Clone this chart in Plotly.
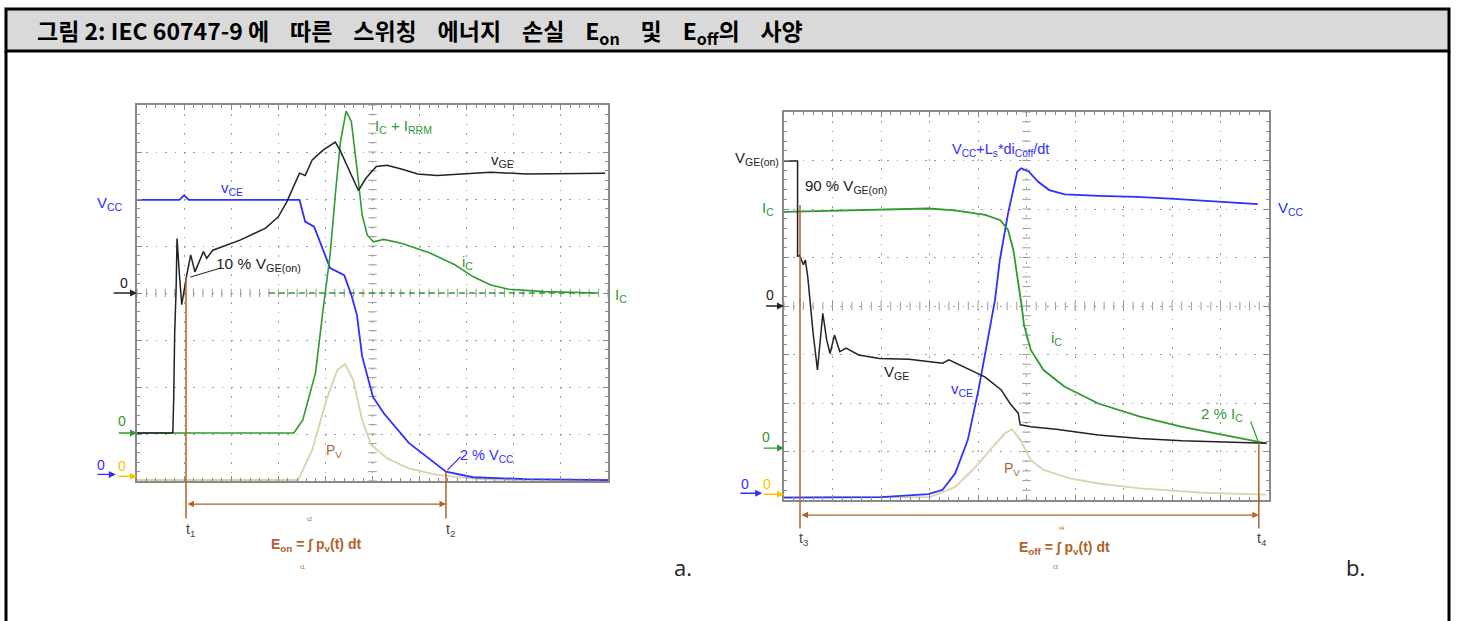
import numpy as np
import plotly.graph_objects as go

W, H = 1457, 621

# ---------------- panel a: turn-on (10 x 8 divisions) ----------------
a_vce_t = [0, 0.9, 1.0, 1.1, 3.45, 3.57, 3.76, 4.10, 4.40, 4.55, 4.67, 4.78, 5.01, 5.24, 5.77, 6.56, 7.13, 8.27, 10]
a_vce_v = [5.98, 5.98, 6.08, 5.98, 5.98, 5.52, 5.41, 4.53, 4.38, 3.96, 3.53, 2.65, 1.79, 1.44, 0.81, 0.20, 0.08, 0.04, 0.02]

a_vge_t = [0, 0.76, 0.78, 0.80, 0.83, 0.85, 0.90, 0.95, 1.05, 1.14, 1.23, 1.41, 1.48, 1.61, 2.20, 2.73,
           3.00, 3.18, 3.34, 3.45, 3.57, 3.72, 3.95, 4.21, 4.31, 4.48, 4.70, 4.86, 5.08, 5.31, 5.61,
           5.96, 6.37, 7.51, 8.27, 9.94]
a_vge_v = [1.02, 1.02, 1.79, 3.15, 4.06, 5.16, 4.40, 3.75, 4.35, 4.81, 4.45, 4.88, 4.74, 4.91, 5.13, 5.38,
           5.62, 5.94, 6.30, 6.55, 6.50, 6.83, 7.04, 7.21, 7.04, 6.65, 6.18, 6.44, 6.69, 6.72, 6.64,
           6.53, 6.50, 6.57, 6.53, 6.55]

a_ic_t = [0, 3.33, 3.52, 3.79, 3.95, 4.00, 4.10, 4.21, 4.32, 4.44, 4.55, 4.67, 4.78, 4.89, 5.02, 5.24,
          5.61, 6.22, 6.75, 7.13, 7.51, 7.89, 8.65, 9.79]
a_ic_v = [1.02, 1.02, 1.30, 2.30, 3.64, 4.00, 4.81, 6.09, 7.22, 7.87, 7.65, 6.65, 5.66, 5.23, 5.09, 5.14,
          5.06, 4.85, 4.60, 4.35, 4.17, 4.08, 4.03, 4.00]

a_ic_ref_t = [2.8, 9.8]
a_ic_ref_v = [4.0, 4.0]

a_pv_t = [0, 3.42, 3.72, 4.02, 4.25, 4.42, 4.59, 4.78, 4.97, 5.31, 5.77, 6.37, 7.13, 8.0, 10]
a_pv_v = [0.02, 0.02, 0.66, 1.72, 2.36, 2.49, 2.15, 1.30, 0.77, 0.48, 0.27, 0.13, 0.05, 0.02, 0.02]

a_t_marks = [1.04, 6.56]          # t1, t2
a_zero = {"vge": 4.0, "ic": 1.02, "vce": 0.14, "pv": 0.10}

# ---------------- panel b: turn-off ----------------
b_ic_t = [0, 2.98, 3.52, 4.15, 4.46, 4.62, 4.73, 4.85, 4.90, 4.95, 5.09, 5.35, 5.78, 6.48, 7.34, 8.21,
          9.07, 9.77, 9.95]
b_ic_v = [5.94, 6.01, 5.97, 5.88, 5.77, 5.57, 5.15, 4.40, 4.00, 3.60, 3.09, 2.68, 2.34, 1.99, 1.72, 1.51,
          1.34, 1.20, 1.17]

b_vce_t = [0, 2.0, 2.98, 3.27, 3.53, 3.79, 4.01, 4.23, 4.35, 4.45, 4.62, 4.81, 4.89, 5.05, 5.24, 5.47,
           5.79, 6.49, 7.27, 8.05, 8.83, 9.77]
b_vce_v = [0.05, 0.06, 0.12, 0.21, 0.55, 1.24, 2.27, 3.44, 4.12, 4.95, 5.91, 6.77, 6.84, 6.77, 6.56, 6.39,
           6.30, 6.27, 6.25, 6.21, 6.16, 6.10]

b_vge_t = [0, 0.28, 0.28, 0.32, 0.40, 0.44, 0.49, 0.53, 0.60, 0.69, 0.80, 0.88, 0.95, 1.04, 1.15, 1.28,
           1.54, 1.97, 2.58, 3.01, 3.27, 3.40, 3.71, 4.14, 4.48, 4.66, 4.83, 4.87, 5.09, 5.61, 6.48,
           7.34, 8.21, 9.07, 9.95]
b_vge_v = [6.99, 6.99, 5.02, 5.05, 4.85, 4.95, 4.60, 4.12, 3.44, 2.68, 3.85, 3.30, 3.02, 3.40, 3.06, 3.13,
           2.99, 2.92, 2.90, 2.85, 2.82, 2.89, 2.75, 2.54, 2.27, 1.99, 1.79, 1.55, 1.51, 1.46, 1.34,
           1.27, 1.22, 1.20, 1.17]

b_pv_t = [0, 3.01, 3.53, 3.96, 4.31, 4.55, 4.70, 4.87, 5.09, 5.35, 5.87, 6.48, 7.34, 8.64, 9.95]
b_pv_v = [0.06, 0.06, 0.27, 0.69, 1.10, 1.37, 1.46, 1.24, 0.82, 0.62, 0.45, 0.34, 0.24, 0.15, 0.11]

b_t_marks = [0.33, 9.79]          # t3, t4
b_zero = {"vge": 4.0, "ic": 1.07, "vce": 0.14, "pv": 0.12}

# ---------------- styling ----------------
BLUE = "#2f2fff"
GREEN = "#2f9a2f"
BLACK = "#222222"
TAN = "#dcd3ab"
BROWN = "#b0622a"
YELLOW = "#ffc000"
GRID = "#9a9a9a"
FRAME = "#8a8a8a"
LBL = "Liberation Sans, Arial, sans-serif"


def px_x(px):
    return px / W


def px_y(py):
    return 1 - py / H


# plot areas in pixels: (left, top, right, bottom)
BOXES = {"a": (137, 105, 608, 481), "b": (784, 112, 1269, 500)}


def scale(panel):
    l, t, r, b = BOXES[panel]
    return (r - l) / 10.0, (b - t) / 8.0


def to_paper(panel, x, y):
    l, t, r, b = BOXES[panel]
    sx, sy = scale(panel)
    return px_x(l + x * sx), px_y(b - y * sy)


fig = go.Figure()


def add_line(t, v, color, width, xa, ya, dash=None):
    fig.add_trace(go.Scatter(x=t, y=v, mode="lines", xaxis=xa, yaxis=ya, hoverinfo="skip",
                             line=dict(color=color, width=width, dash=dash, shape="linear")))


def add_center_ticks(xa, ya):
    # scope-style cross-hair ticks along the centre lines
    xs = np.arange(0, 10.01, 0.2)
    ys = np.arange(0, 8.01, 0.2)
    fig.add_trace(go.Scatter(x=xs, y=[4] * len(xs), mode="markers", xaxis=xa, yaxis=ya, hoverinfo="skip",
                             marker=dict(symbol="line-ns", size=6, line=dict(color=GRID, width=1))))
    fig.add_trace(go.Scatter(x=[5] * len(ys), y=ys, mode="markers", xaxis=xa, yaxis=ya, hoverinfo="skip",
                             marker=dict(symbol="line-ew", size=6, line=dict(color=GRID, width=1))))


add_center_ticks("x", "y")
add_center_ticks("x2", "y2")

# panel a traces
add_line(a_pv_t, a_pv_v, TAN, 1.9, "x", "y")
add_line(a_ic_ref_t, a_ic_ref_v, GREEN, 1.6, "x", "y", dash="6px,4px")
add_line(a_vce_t, a_vce_v, BLUE, 1.8, "x", "y")
add_line(a_ic_t, a_ic_v, GREEN, 1.6, "x", "y")
add_line(a_vge_t, a_vge_v, BLACK, 1.5, "x", "y")

# panel b traces
add_line(b_pv_t, b_pv_v, TAN, 1.9, "x2", "y2")
add_line(b_vce_t, b_vce_v, BLUE, 1.8, "x2", "y2")
add_line(b_ic_t, b_ic_v, GREEN, 1.8, "x2", "y2")
add_line(b_vge_t, b_vge_v, BLACK, 1.5, "x2", "y2")


def axis_style(box, horizontal):
    l, t, r, b = box
    dom = [px_x(l), px_x(r)] if horizontal else [px_y(b), px_y(t)]
    return dict(domain=dom, range=[0, 10] if horizontal else [0, 8], dtick=1, showticklabels=False,
                showline=True, linecolor=FRAME, linewidth=2, mirror="allticks",
                ticks="inside", ticklen=5, tickcolor=FRAME, tickwidth=1,
                minor=dict(dtick=0.2, ticks="inside", ticklen=3, tickcolor=FRAME, showgrid=False),
                showgrid=True, gridcolor=GRID, gridwidth=1.4, griddash="1.6px,7.8px",
                zeroline=False, fixedrange=True)


ann = []


def label(text, panel, x, y, color, size=15, anchor="left", bold=False, family=LBL):
    px, py = to_paper(panel, x, y)
    ann.append(dict(text=f"<b>{text}</b>" if bold else text, x=px, y=py, xref="paper", yref="paper",
                    xanchor=anchor, yanchor="middle", showarrow=False,
                    font=dict(family=family, size=size, color=color)))


def arrow(panel, x, y, ax, ay, color, head=2, width=1.4, side="end", size=1.0):
    # head at (x, y), tail at (ax, ay), both in divisions of the given panel
    px, py = to_paper(panel, x, y)
    sx, sy = scale(panel)
    ann.append(dict(text="", x=px, y=py, xref="paper", yref="paper",
                    ax=(ax - x) * sx, ay=-(ay - y) * sy, axref="pixel", ayref="pixel",
                    showarrow=True, arrowhead=head, arrowside=side, arrowwidth=width,
                    arrowcolor=color, arrowsize=size, standoff=0, startstandoff=0))


# ---- panel a labels ----
label("V<sub>CC</sub>", "a", -0.89, 5.91, BLUE)
label("v<sub>CE</sub>", "a", 1.74, 6.23, BLUE)
label("I<sub>C</sub> + I<sub>RRM</sub>", "a", 5.01, 7.55, GREEN)
label("v<sub>GE</sub>", "a", 7.47, 6.81, BLACK)
label("10 % V<sub>GE(on)</sub>", "a", 1.63, 4.60, BLACK, size=15.5)
label("i<sub>C</sub>", "a", 6.86, 4.64, GREEN)
label("I<sub>C</sub>", "a", 10.1, 3.94, GREEN)
label("P<sub>V</sub>", "a", 3.97, 0.64, BROWN, size=14)
label("2 % V<sub>CC</sub>", "a", 6.82, 0.54, BLUE, size=14.5)
arrow("a", 1.71, 4.51, 1.10, 4.33, BLACK, head=0, width=1)
arrow("a", 6.87, 0.52, 6.56, 0.20, BLUE, head=0, width=1.2)

# channel zero markers
label("0", "a", -0.27, 4.22, BLACK, size=14, anchor="center")
arrow("a", 0, a_zero["vge"], -0.53, a_zero["vge"], BLACK)
label("0", "a", -0.32, 1.27, GREEN, size=14, anchor="center")
arrow("a", 0, a_zero["ic"], -0.42, a_zero["ic"], GREEN)
label("0", "a", -0.76, 0.35, BLUE, size=14, anchor="center")
arrow("a", -0.45, a_zero["vce"], -0.87, a_zero["vce"], BLUE)
label("0", "a", -0.32, 0.32, YELLOW, size=14, anchor="center")
arrow("a", 0, a_zero["pv"], -0.42, a_zero["pv"], YELLOW)

# integration window t1..t2
t1, t2 = a_t_marks
arrow("a", t1, 4.34, t1, -0.83, BROWN, head=0, width=1.5)
arrow("a", t2, 0.20, t2, -0.83, BROWN, head=0, width=1.5)
arrow("a", t2, -0.49, t1, -0.49, BROWN, head=2, width=1.3, side="end+start")
label("t<sub>1</sub>", "a", t1 - 0.04, -1.04, "#444444", size=14)
label("t<sub>2</sub>", "a", t2 - 0.04, -1.04, "#444444", size=14)
label("E<sub>on</sub> = ∫ p<sub>v</sub>(t) dt", "a", 3.80, -1.36, BROWN, size=14, anchor="center", bold=True)
label("t2", "a", 3.67, -0.80, BROWN, size=6, anchor="center")
label("t1", "a", 3.52, -1.83, BROWN, size=6, anchor="center")

# ---- panel b labels ----
label("V<sub>GE(on)</sub>", "b", -1.05, 7.05, BLACK, size=15)
label("90 % V<sub>GE(on)</sub>", "b", 0.39, 6.47, BLACK, size=15)
label("I<sub>C</sub>", "b", -0.49, 6.02, GREEN)
label("V<sub>CC</sub>+L<sub>s</sub>*di<sub>Coff</sub>/dt", "b", 3.42, 7.22, BLUE, size=14.5)
label("V<sub>CC</sub>", "b", 10.14, 6.02, BLUE)
label("i<sub>C</sub>", "b", 5.46, 3.34, GREEN)
label("V<sub>GE</sub>", "b", 2.02, 2.62, BLACK)
label("v<sub>CE</sub>", "b", 3.40, 2.27, BLUE)
label("P<sub>V</sub>", "b", 4.49, 0.64, BROWN, size=14)
label("2 % I<sub>C</sub>", "b", 8.56, 1.77, GREEN)
arrow("b", 9.77, 1.22, 9.61, 1.65, GREEN, head=0, width=1.2)

label("0", "b", -0.29, 4.22, BLACK, size=14, anchor="center")
arrow("b", 0, b_zero["vge"], -0.40, b_zero["vge"], BLACK)
label("0", "b", -0.37, 1.29, GREEN, size=14, anchor="center")
arrow("b", 0, b_zero["ic"], -0.45, b_zero["ic"], GREEN)
label("0", "b", -0.80, 0.33, BLUE, size=14, anchor="center")
arrow("b", -0.45, b_zero["vce"], -0.93, b_zero["vce"], BLUE)
label("0", "b", -0.35, 0.33, YELLOW, size=14, anchor="center")
arrow("b", 0, b_zero["pv"], -0.45, b_zero["pv"], YELLOW)

t3, t4 = b_t_marks
arrow("b", t3, 6.08, t3, -0.62, BROWN, head=0, width=1.5)
arrow("b", t4, 1.22, t4, -0.62, BROWN, head=0, width=1.5)
arrow("b", t4, -0.31, t3, -0.31, BROWN, head=2, width=1.3, side="end+start")
label("t<sub>3</sub>", "b", t3 - 0.06, -0.80, "#444444", size=14)
label("t<sub>4</sub>", "b", t4 - 0.08, -0.80, "#444444", size=14)
label("E<sub>off</sub> = ∫ p<sub>v</sub>(t) dt", "b", 5.79, -0.99, BROWN, size=14, anchor="center", bold=True)
label("t4", "b", 5.73, -0.58, BROWN, size=6, anchor="center")
label("t3", "b", 5.61, -1.38, BROWN, size=6, anchor="center")

# panel letters
for letter, (lx, ly) in {"a.": (672, 567), "b.": (1344, 567)}.items():
    ann.append(dict(text=letter, x=px_x(lx), y=px_y(ly), xref="paper", yref="paper",
                    xanchor="left", yanchor="middle", showarrow=False,
                    font=dict(family="Open Sans, sans-serif", size=22, color=BLACK)))

# caption header
SP = "&nbsp;" * 4
caption = ("그림 2: IEC 60747-9 에" + SP + "따른" + SP + "스위칭" + SP + "에너지" + SP + "손실" + SP +
           "E<sub>on</sub>" + SP + "및" + SP + "E<sub>off</sub>의" + SP + "사양")
ann.append(dict(text=f"<b>{caption}</b>",
                x=px_x(35), y=px_y(31), xref="paper", yref="paper", xanchor="left", yanchor="middle",
                showarrow=False, font=dict(family="Noto Sans CJK KR, sans-serif", size=23, color="#000000")))

shapes = [
    dict(type="rect", xref="paper", yref="paper", x0=px_x(6), x1=px_x(1449), y0=px_y(51), y1=px_y(9),
         fillcolor="#d9d9d9", line=dict(color="#000000", width=3), layer="below"),
    dict(type="line", xref="paper", yref="paper", x0=px_x(6), x1=px_x(6), y0=px_y(51), y1=px_y(630),
         line=dict(color="#000000", width=3)),
    dict(type="line", xref="paper", yref="paper", x0=px_x(1449), x1=px_x(1449), y0=px_y(51), y1=px_y(630),
         line=dict(color="#000000", width=3)),
]

fig.update_layout(
    width=W, height=H, margin=dict(l=0, r=0, t=0, b=0),
    paper_bgcolor="white", plot_bgcolor="white", showlegend=False,
    xaxis=dict(axis_style(BOXES["a"], True), anchor="y"),
    yaxis=dict(axis_style(BOXES["a"], False), anchor="x"),
    xaxis2=dict(axis_style(BOXES["b"], True), anchor="y2"),
    yaxis2=dict(axis_style(BOXES["b"], False), anchor="x2"),
    annotations=ann, shapes=shapes,
)

fig.write_html("out.html")
